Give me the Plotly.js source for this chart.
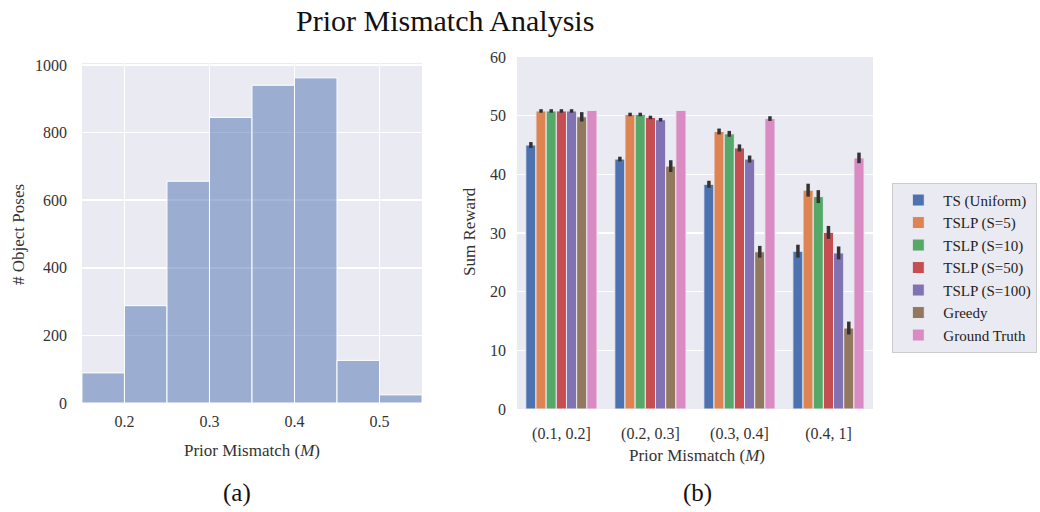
<!DOCTYPE html>
<html>
<head>
<meta charset="utf-8">
<script src="https://cdn.plot.ly/plotly-3.0.1.min.js"></script>
<style>html,body{margin:0;padding:0;background:#fff;}#chart{width:1040px;height:512px;}</style>
</head>
<body>
<div id="chart"></div>
<script>
// (a) histogram of prior mismatch
const binEdges = [0.15, 0.20, 0.25, 0.30, 0.35, 0.40, 0.45, 0.50, 0.55];
const poseCounts = [89, 288, 656, 845, 940, 962, 126, 24];
const histTicks = [0.2, 0.3, 0.4, 0.5];

// (b) sum reward per mismatch bucket
const buckets = ['(0.1, 0.2]', '(0.2, 0.3]', '(0.3, 0.4]', '(0.4, 1]'];
const methods = ['TS (Uniform)', 'TSLP (S=5)', 'TSLP (S=10)', 'TSLP (S=50)', 'TSLP (S=100)', 'Greedy', 'Ground Truth'];
const tsUniform = [45.0, 42.6, 38.3, 26.9];
const tslp5 = [50.8, 50.2, 47.3, 37.3];
const tslp10 = [50.8, 50.2, 46.9, 36.2];
const tslp50 = [50.8, 49.7, 44.5, 30.1];
const tslp100 = [50.8, 49.3, 42.6, 26.6];
const greedy = [49.8, 41.4, 26.8, 13.8];
const groundTruth = [50.9, 50.9, 49.5, 42.8];
const errTsUniform = [0.5, 0.4, 0.6, 1.1];
const errTslp5 = [0.3, 0.3, 0.5, 1.1];
const errTslp10 = [0.3, 0.3, 0.5, 1.1];
const errTslp50 = [0.3, 0.3, 0.6, 1.1];
const errTslp100 = [0.3, 0.3, 0.6, 1.1];
const errGreedy = [0.8, 1.0, 1.0, 1.1];
const errGroundTruth = [0.0, 0.0, 0.4, 0.9];

const seriesValues = [tsUniform, tslp5, tslp10, tslp50, tslp100, greedy, groundTruth];
const seriesErrors = [errTsUniform, errTslp5, errTslp10, errTslp50, errTslp100, errGreedy, errGroundTruth];
const colors = ['#4c72b0', '#dd8452', '#55a868', '#c44e52', '#8172b3', '#937860', '#da8bc3'];

const SERIF = 'Liberation Serif, Times New Roman, serif';
const BG = '#eaeaf2';

const centers = poseCounts.map((c, i) => (binEdges[i] + binEdges[i + 1]) / 2);
const widths = poseCounts.map((c, i) => binEdges[i + 1] - binEdges[i]);

const traces = [{
  type: 'bar', x: centers, y: poseCounts, width: widths,
  xaxis: 'x', yaxis: 'y', showlegend: false,
  marker: {color: 'rgba(76,114,176,0.5)', line: {color: '#ffffff', width: 1}},
  hoverinfo: 'x+y'
}];

methods.forEach((m, k) => {
  traces.push({
    type: 'bar', name: m, x: buckets, y: seriesValues[k],
    xaxis: 'x2', yaxis: 'y2',
    marker: {color: colors[k], line: {color: BG, width: 1}},
    error_y: {type: 'data', array: seriesErrors[k], visible: true, color: '#333333', thickness: 3.5, width: 0}
  });
});

const axisCommon = {
  showgrid: true, gridcolor: '#ffffff', gridwidth: 1.5, zeroline: false,
  showline: false, ticks: '', automargin: false,
  tickfont: {family: SERIF, size: 16, color: '#333333'}
};

const layout = {
  width: 1040, height: 512,
  margin: {l: 0, r: 0, t: 0, b: 0},
  paper_bgcolor: '#ffffff', plot_bgcolor: BG,
  barmode: 'group', bargap: 0.2, bargroupgap: 0,
  showlegend: true,
  legend: {
    x: 0.858, y: 0.643, xanchor: 'left', yanchor: 'top',
    bgcolor: BG, bordercolor: '#cccccc', borderwidth: 1,
    font: {family: SERIF, size: 15, color: '#222222'},
    tracegroupgap: 0, itemwidth: 40
  },
  xaxis: Object.assign({}, axisCommon, {
    domain: [0.0788, 0.4058], range: [0.15, 0.55],
    tickvals: histTicks, ticktext: histTicks.map(v => v.toFixed(1)),
    ticklabelstandoff: 7, anchor: 'y'
  }),
  yaxis: Object.assign({}, axisCommon, {
    domain: [0.2129, 0.877], range: [0, 1006], dtick: 200,
    ticklabelstandoff: 14, anchor: 'x'
  }),
  xaxis2: Object.assign({}, axisCommon, {
    domain: [0.497, 0.8394], range: [-0.5, 3.5], showgrid: false,
    type: 'category', ticklabelstandoff: 13, anchor: 'y2'
  }),
  yaxis2: Object.assign({}, axisCommon, {
    domain: [0.2012, 0.8887], range: [0, 60], dtick: 10,
    ticklabelstandoff: 10, anchor: 'x2'
  }),
  annotations: [
    {text: 'Prior Mismatch Analysis', xref: 'paper', yref: 'paper', x: 445 / 1040, y: 1 - 20 / 512,
     showarrow: false, xanchor: 'center', yanchor: 'middle', font: {family: SERIF, size: 30, color: '#111111'}},
    {text: '# Object Poses', xref: 'paper', yref: 'paper', x: 18 / 1040, y: 1 - 235 / 512, textangle: -90,
     showarrow: false, xanchor: 'center', yanchor: 'middle', font: {family: SERIF, size: 17, color: '#333333'}},
    {text: 'Prior Mismatch (<i>M</i>)', xref: 'paper', yref: 'paper', x: 252 / 1040, y: 1 - 450 / 512,
     showarrow: false, xanchor: 'center', yanchor: 'middle', font: {family: SERIF, size: 17, color: '#333333'}},
    {text: 'Sum Reward', xref: 'paper', yref: 'paper', x: 469 / 1040, y: 1 - 232 / 512, textangle: -90,
     showarrow: false, xanchor: 'center', yanchor: 'middle', font: {family: SERIF, size: 17, color: '#333333'}},
    {text: 'Prior Mismatch (<i>M</i>)', xref: 'paper', yref: 'paper', x: 697 / 1040, y: 1 - 455 / 512,
     showarrow: false, xanchor: 'center', yanchor: 'middle', font: {family: SERIF, size: 17, color: '#333333'}},
    {text: '(a)', xref: 'paper', yref: 'paper', x: 237 / 1040, y: 1 - 493 / 512,
     showarrow: false, xanchor: 'center', yanchor: 'middle', font: {family: SERIF, size: 25, color: '#111111'}},
    {text: '(b)', xref: 'paper', yref: 'paper', x: 697 / 1040, y: 1 - 493 / 512,
     showarrow: false, xanchor: 'center', yanchor: 'middle', font: {family: SERIF, size: 25, color: '#111111'}}
  ]
};

Plotly.newPlot('chart', traces, layout, {displayModeBar: false, staticPlot: true});
</script>
</body>
</html>
